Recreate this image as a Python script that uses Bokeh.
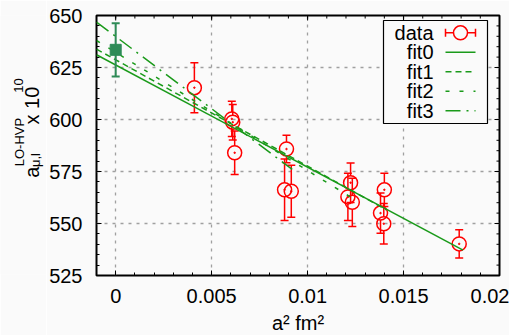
import numpy as np
from bokeh.plotting import figure
from bokeh.layouts import row
from bokeh.models import FixedTicker, Range1d
from bokeh.core.properties import value
from bokeh.embed import file_html
from bokeh.resources import INLINE

# ---------------- data ----------------
a2 = [0.0041, 0.00605, 0.0061, 0.0062, 0.0088, 0.0089, 0.00915,
      0.0121, 0.01224, 0.01233, 0.0138, 0.01397, 0.0140, 0.0179]
amu = [615.3, 600.3, 598.7, 584.0, 566.2, 585.8, 565.5,
       562.8, 569.6, 560.2, 555.0, 549.9, 566.2, 540.2]
amu_err = [12.0, 8.5, 8.5, 10.5, 14.8, 6.6, 12.5,
           11.4, 9.5, 11.6, 9.7, 9.7, 8.0, 6.8]

cont_a2 = [0.0]
cont_amu = [633.5]
cont_err = [12.8]

fit_names = ["fit0", "fit1", "fit2", "fit3"]
fit_intercept = [626.2, 628.7, 632.3, 639.9]
fit_slope = [-4916.0, -5113.0, -5686.0, -6945.0]
fit_xmin = [-0.001, -0.001, -0.001, -0.001]
fit_xmax = [0.0181, 0.0141, 0.0125, 0.0092]

x_ticks = [0, 0.005, 0.01, 0.015, 0.02]
x_tick_labels = ["0", "0.005", "0.01", "0.015", "0.02"]
y_ticks = [525, 550, 575, 600, 625, 650]
y_tick_labels = ["525", "550", "575", "600", "625", "650"]

# ---------------- styles ----------------
FONT = "Liberation Sans"
RED = "#ff0000"
GREEN = "#1a9a1a"
SEA = "#2e8b57"
BG = "#fafafa"
fit_dash = ["solid", "6 4", "4 10", "15 6 2 6"]

FW, FH = 403, 260
H = 335
LW = 46
TOP = 15
XR = (-0.001, 0.02)
YR = (525, 650)

p = figure(frame_width=FW, frame_height=FH, x_range=XR, y_range=YR,
           output_backend="svg", toolbar_location=None,
           min_border_left=96 - LW, min_border_right=10, min_border_top=TOP,
           min_border_bottom=H - TOP - FH,
           background_fill_color=BG, border_fill_color=BG)
p.outline_line_color = "black"
p.outline_line_width = 2
p.outline_line_alpha = 1.0

# frame-pixel helper ranges for legend and mirror ticks
p.extra_x_ranges = {"lx": Range1d(0, FW)}
p.extra_y_ranges = {"ly": Range1d(0, FH)}

x_minor = list(np.round(np.arange(-0.001, 0.02001, 0.001), 6))
y_minor = list(range(525, 651, 5))
xticker = FixedTicker(ticks=x_ticks, minor_ticks=x_minor)
yticker = FixedTicker(ticks=y_ticks, minor_ticks=y_minor)

xb = p.xaxis[0]
yl = p.yaxis[0]
xb.ticker = xticker
yl.ticker = yticker
xb.major_label_overrides = {t: l for t, l in zip(x_ticks, x_tick_labels)}
yl.major_label_overrides = {t: l for t, l in zip(y_ticks, y_tick_labels)}

for ax in [xb, yl]:
    ax.axis_line_color = None
    ax.major_tick_in = 5
    ax.major_tick_out = 0
    ax.minor_tick_in = 3
    ax.minor_tick_out = 0
    ax.major_tick_line_color = "black"
    ax.minor_tick_line_color = "black"
    ax.major_label_text_font = FONT
    ax.major_label_text_font_size = "20px"
    ax.major_label_text_color = "black"

xb.major_label_standoff = 13
yl.major_label_standoff = 14
xb.axis_label = "a\u00b2 fm\u00b2"
xb.axis_label_text_font = FONT
xb.axis_label_text_font_size = "20px"
xb.axis_label_text_font_style = "normal"
xb.axis_label_text_color = "black"
xb.axis_label_standoff = 6

p.xgrid.ticker = xticker
p.ygrid.ticker = yticker
for g in [p.xgrid, p.ygrid]:
    g.grid_line_color = "#a0a0a0"
    g.grid_line_dash = "3 5"
    g.grid_line_width = 1.3

# mirror ticks on top and right edges of the frame
p.segment(x_ticks, [FH] * len(x_ticks), x_ticks, [FH - 5] * len(x_ticks),
          line_color="black", line_width=1, y_range_name="ly")
p.segment(x_minor, [FH] * len(x_minor), x_minor, [FH - 3] * len(x_minor),
          line_color="black", line_width=1, y_range_name="ly")
p.segment([FW] * len(y_ticks), y_ticks, [FW - 5] * len(y_ticks), y_ticks,
          line_color="black", line_width=1, x_range_name="lx")
p.segment([FW] * len(y_minor), y_minor, [FW - 3] * len(y_minor), y_minor,
          line_color="black", line_width=1, x_range_name="lx")

# ---------------- data points with error bars ----------------
x = np.array(a2)
y = np.array(amu)
e = np.array(amu_err)
R_PX = 7.0
r = R_PX * (YR[1] - YR[0]) / FH
p.segment(x, y + r, x, y + e, line_color=RED, line_width=1.5)
p.segment(x, y - e, x, y - r, line_color=RED, line_width=1.5)
p.scatter(np.concatenate([x, x]), np.concatenate([y + e, y - e]),
          marker="dash", size=8, line_color=RED, line_width=1.5)
p.scatter(x, y, marker="circle", size=2 * R_PX, fill_color=None,
          line_color=RED, line_width=1.5)
p.scatter(x, y, marker="circle", size=1.5, fill_color=RED, line_color=RED)

# ---------------- fits ----------------
for name, b, m, x0, x1, d in zip(fit_names, fit_intercept, fit_slope,
                                  fit_xmin, fit_xmax, fit_dash):
    xs = np.array([x0, x1])
    p.line(xs, b + m * xs, line_color=GREEN, line_width=1.5, line_dash=d)

# ---------------- continuum point ----------------
cx = np.array(cont_a2)
cy = np.array(cont_amu)
ce = np.array(cont_err)
p.segment(cx, cy - ce, cx, cy + ce, line_color=SEA, line_width=2)
p.scatter(np.concatenate([cx, cx]), np.concatenate([cy + ce, cy - ce]),
          marker="dash", size=8, line_color=SEA, line_width=2)
p.scatter(cx, cy, marker="square", size=11, fill_color=SEA, line_color=SEA)

# ---------------- legend (frame pixel coordinates) ----------------
LX = dict(x_range_name="lx", y_range_name="ly")
p.quad(left=[287], right=[391], bottom=[152], top=[255], fill_color=BG,
       line_color="black", line_width=1.2, **LX)
leg_labels = ["data"] + fit_names
rows = [242.7, 223.2, 203.8, 184.3, 164.8]
p.text(x=[337] * 5, y=rows, text=leg_labels, text_font=value(FONT),
       text_font_size=value("20px"), text_align="right",
       text_baseline="middle", text_color="black", **LX)
p.segment([349], [rows[0]], [379], [rows[0]], line_color=RED, line_width=1.5, **LX)
p.segment([349, 379], [rows[0] - 4, rows[0] - 4], [349, 379], [rows[0] + 4, rows[0] + 4],
          line_color=RED, line_width=1.5, **LX)
p.scatter([364], [rows[0]], marker="circle", size=2 * R_PX, fill_color=BG,
          line_color=RED, line_width=1.5, **LX)
for i, d in enumerate(fit_dash):
    p.segment([349], [rows[i + 1]], [379], [rows[i + 1]], line_color=GREEN,
              line_width=1.5, line_dash=d, **LX)

# ---------------- y axis label (separate narrow panel) ----------------
q = figure(width=LW, height=H, x_range=(0, LW), y_range=(0, H),
           output_backend="svg", toolbar_location=None,
           min_border=0, background_fill_color=BG, border_fill_color=BG)
q.axis.visible = False
q.grid.visible = False
q.outline_line_color = None

ylab_text = ["a", "\u03bc,l", "LO-HVP", "x 10", "10"]
ylab_u = [31, 34.5, 19, 31, 17.5]
ylab_v = [125, 139, 140, 194, 235]
ylab_size = ["20px", "13px", "13px", "20px", "13px"]
q.text(x=ylab_u, y=ylab_v, text=ylab_text, angle=np.pi / 2,
       text_font=value(FONT), text_font_size=ylab_size,
       text_align="left", text_baseline="alphabetic", text_color="black")

layout = row(q, p, spacing=0)
open("out.html", "w").write(file_html(layout, INLINE))
